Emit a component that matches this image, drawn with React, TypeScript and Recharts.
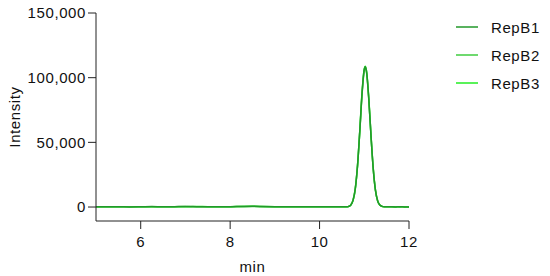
import { LineChart, Line, XAxis, YAxis, Legend } from "recharts"

// retention time (min)
const times = [
  5.0, 5.25, 5.5, 5.75, 6.0, 6.25, 6.5, 6.75, 7.0, 7.25, 7.5, 7.75, 8.0, 8.25, 8.5, 8.75, 9.0, 9.25, 9.5, 9.75,
  10.0, 10.25, 10.5, 10.55, 10.6, 10.65, 10.7, 10.75, 10.8, 10.85, 10.9, 10.95, 11.0, 11.02, 11.05, 11.1, 11.15,
  11.2, 11.25, 11.3, 11.35, 11.4, 11.45, 11.5, 11.6, 11.7, 11.8, 11.9, 12.0,
]

const repB1 = [
  300, 150, 250, 100, 200, 350, 150, 250, 400, 300, 200, 300, 250, 450, 600, 350, 200, 150, 250, 300,
  200, 150, 200, 150, 200, 450, 1600, 5300, 14500, 32500, 59000, 88000, 106500, 108400, 104800, 84000, 55000,
  29500, 12800, 4600, 1500, 500, 250, 200, 150, 100, 150, 100, 120,
]
const repB2 = [
  250, 200, 150, 200, 300, 250, 200, 300, 350, 250, 250, 200, 300, 400, 500, 300, 250, 200, 200, 250,
  250, 200, 150, 200, 250, 500, 1700, 5500, 14800, 32800, 58500, 87000, 105600, 107500, 104000, 83500, 55200,
  29800, 13000, 4700, 1550, 520, 260, 180, 160, 130, 120, 140, 110,
]
const repB3 = [
  200, 250, 200, 150, 250, 300, 250, 200, 300, 350, 300, 250, 200, 500, 550, 400, 300, 250, 200, 200,
  150, 200, 250, 180, 220, 420, 1550, 5200, 14300, 32200, 59400, 88600, 107000, 108800, 105300, 84600, 55600,
  29900, 12900, 4500, 1450, 480, 240, 210, 140, 110, 160, 120, 130,
]

const xTicks = [6, 8, 10, 12]
const yTicks = [0, 50000, 100000, 150000]

const seriesNames = ["RepB1", "RepB2", "RepB3"]
const seriesColors = ["#22992a", "#3fcc3f", "#22ee22"]

const data = times.map((t, i) => ({ t, RepB1: repB1[i], RepB2: repB2[i], RepB3: repB3[i] }))

const font = "Arial, 'Liberation Sans', Helvetica, sans-serif"
const txt = { fill: "#111", fontSize: 15, fontFamily: font, letterSpacing: 0.6 }

function LegendBox() {
  return (
    <div style={{ fontFamily: font, fontSize: 15, letterSpacing: 0.6, color: "#111" }}>
      {seriesNames.map((name, i) => (
        <div key={name} style={{ display: "flex", alignItems: "center", height: 28 }}>
          <svg width={22} height={4} style={{ marginRight: 13 }}>
            <line x1={0} y1={2} x2={22} y2={2} stroke={seriesColors[i]} strokeWidth={1.5} />
          </svg>
          <span>{name}</span>
        </div>
      ))}
    </div>
  )
}

export default function App() {
  return (
    <div style={{ position: "absolute", left: 0, top: 0, width: 550, height: 276, background: "#fff" }}>
      <LineChart width={550} height={276} data={data} margin={{ top: 13, right: 141, bottom: 0, left: 0 }}>
        <XAxis
          dataKey="t"
          type="number"
          domain={[5, 12]}
          ticks={xTicks}
          allowDataOverflow
          height={55}
          tickSize={8}
          tickMargin={7}
          stroke="#222"
          tick={txt}
          label={{ value: "min", position: "insideBottom", offset: 4, ...txt }}
        />
        <YAxis
          type="number"
          domain={[-10800, 150000]}
          ticks={yTicks}
          allowDataOverflow
          width={96}
          tickSize={8}
          tickMargin={2}
          stroke="#222"
          tickFormatter={(v: number) => v.toLocaleString("en-US")}
          tick={txt}
          label={{
            value: "Intensity",
            angle: -90,
            position: "insideLeft",
            offset: 15,
            ...txt,
            style: { textAnchor: "middle" },
          }}
        />
        <Legend
          layout="vertical"
          align="center"
          verticalAlign="middle"
          content={() => <LegendBox />}
          wrapperStyle={{ position: "absolute", top: 13, left: 456, width: 94 }}
        />
        {[2, 1, 0].map((i) => (
          <Line
            key={seriesNames[i]}
            dataKey={seriesNames[i]}
            type="monotone"
            stroke={seriesColors[i]}
            strokeWidth={1.5}
            dot={false}
            isAnimationActive={false}
          />
        ))}
      </LineChart>
    </div>
  )
}
